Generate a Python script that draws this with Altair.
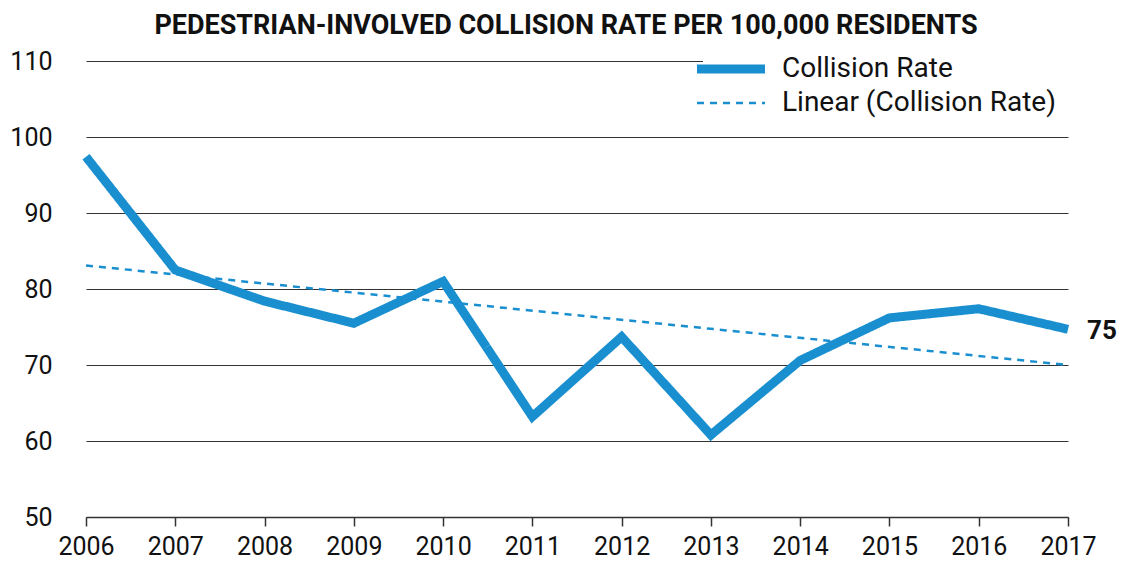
import altair as alt
import pandas as pd

years = [2006, 2007, 2008, 2009, 2010, 2011, 2012, 2013, 2014, 2015, 2016, 2017]
rates = [97.4, 82.5, 78.4, 75.5, 81.0, 63.2, 73.7, 60.8, 70.6, 76.2, 77.4, 74.7]
trend_years = [2006, 2017]
trend_values = [83.1, 70.0]
series_names = ["Collision Rate", "Linear (Collision Rate)"]
y_ticks = [50, 60, 70, 80, 90, 100, 110]
title_text = "PEDESTRIAN-INVOLVED COLLISION RATE PER 100,000 RESIDENTS"

BLUE = "#1a8fd0"
FONT = "Roboto"

df_rate = pd.DataFrame({"year": years, "rate": rates, "series": series_names[0]})
df_trend = pd.DataFrame({"year": trend_years, "rate": trend_values, "series": series_names[1]})

color_scale = alt.Scale(domain=series_names, range=[BLUE, BLUE])
dash_scale = alt.Scale(domain=series_names, range=[[1, 0], [7, 6]])
width_scale = alt.Scale(domain=series_names, range=[9, 2.5])

x = alt.X("year:Q", scale=alt.Scale(domain=[2006, 2017], nice=False, zero=False),
          axis=alt.Axis(title=None, values=years, format="d", grid=False,
                        domain=True, domainColor="#333", domainWidth=1.5,
                        ticks=True, tickColor="#333", tickSize=9, tickWidth=1.5,
                        labelFontSize=25, labelFont=FONT, labelColor="#111",
                        labelPadding=8, labelFlush=False))
y = alt.Y("rate:Q", scale=alt.Scale(domain=[50, 110], nice=False, zero=False),
          axis=alt.Axis(title=None, values=y_ticks,
                        grid=True, gridColor="#333", gridWidth=1.2,
                        domain=False, ticks=False, labelFontSize=25,
                        labelFont=FONT, labelColor="#111", labelPadding=34))

legend = alt.Legend(title=None, orient="none", legendX=617, legendY=-20,
                    fillColor="white", padding=14, symbolType="M-4,0H4",
                    symbolSize=289, labelFontSize=28, labelFont=FONT,
                    labelColor="#111", labelOffset=37, rowPadding=2,
                    labelLimit=500, symbolStrokeColor=BLUE)

enc = dict(
    color=alt.Color("series:N", scale=color_scale, legend=legend),
    strokeDash=alt.StrokeDash("series:N", scale=dash_scale, legend=legend),
    strokeWidth=alt.StrokeWidth("series:N", scale=width_scale, legend=legend),
)

line = alt.Chart(df_rate).mark_line(strokeJoin="miter").encode(x=x, y=y, **enc)

trend = alt.Chart(df_trend).mark_line().encode(x=x, y=y, **enc)

label = alt.Chart(df_rate).transform_filter(alt.datum.year == 2017).mark_text(
    align="left", baseline="middle", dx=19, dy=2, fontSize=26, fontWeight="bold",
    font=FONT, color="#111").encode(x=x, y=y, text=alt.Text("rate:Q", format=".0f"))

chart = alt.layer(line, trend, label).properties(
    width=982, height=456,
    autosize=alt.AutoSizeParams(type="none"),
    padding={"left": 78, "top": 53, "right": 49, "bottom": 51},
    title=alt.Title(title_text, font=FONT, fontSize=27, fontWeight="bold",
                    color="#111", anchor="middle", frame="group",
                    baseline="alphabetic", offset=0, dy=20, dx=-11),
).configure_view(stroke=None)

chart.save("out.html", embed_options={"renderer": "svg", "actions": False})
